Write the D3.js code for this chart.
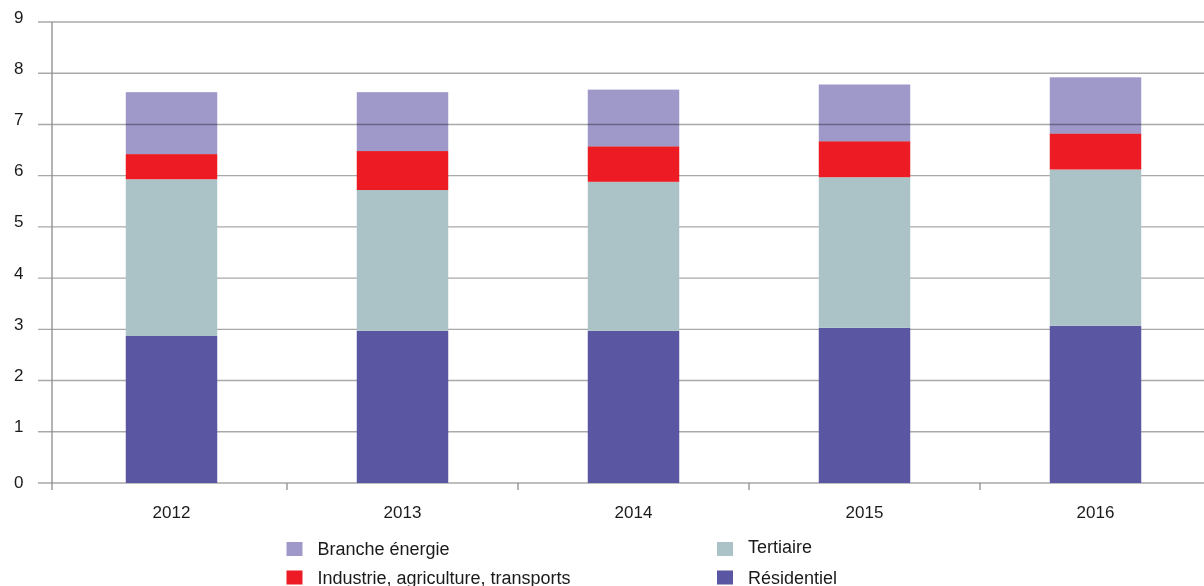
<!DOCTYPE html>
<html>
<head>
<meta charset="utf-8">
<script src="https://cdn.jsdelivr.net/npm/d3@7"></script>
<style>
  html, body { margin: 0; padding: 0; background: #fff; }
  svg { display: block; font-family: "Liberation Sans", Arial, Helvetica, sans-serif; }
</style>
</head>
<body>
<svg id="chart" width="1204" height="586"></svg>
<script>
// Years on the horizontal axis
const years = ["2012", "2013", "2014", "2015", "2016"];

// Series values, stacked bottom to top
const residentiel = [2.87, 2.97, 2.97, 3.03, 3.07];
const tertiaire   = [3.06, 2.75, 2.91, 2.94, 3.05];
const industrie   = [0.49, 0.76, 0.69, 0.70, 0.70];
const branche     = [1.21, 1.15, 1.11, 1.11, 1.10];

// Y tick values
const yTicks = [0, 1, 2, 3, 4, 5, 6, 7, 8, 9];

const seriesKeys = ["residentiel", "tertiaire", "industrie", "branche"];
const seriesNames = {
  branche: "Branche énergie",
  industrie: "Industrie, agriculture, transports",
  tertiaire: "Tertiaire",
  residentiel: "Résidentiel"
};
const colors = {
  residentiel: "#5a56a2",
  tertiaire: "#abc3c7",
  industrie: "#ed1c24",
  branche: "#9f99c9"
};

const rows = years.map((yr, i) => ({
  year: yr,
  residentiel: residentiel[i],
  tertiaire: tertiaire[i],
  industrie: industrie[i],
  branche: branche[i]
}));

const svg = d3.select("#chart");

const x = d3.scaleBand()
  .domain(years)
  .range([56, 1211])
  .paddingInner(0.604)
  .paddingOuter(0.302);

const y = d3.scaleLinear().domain([0, 9]).range([483, 22]);

const axisX = 52;

// Horizontal gridlines
svg.append("g")
  .selectAll("line")
  .data(yTicks)
  .join("line")
  .attr("x1", 38)
  .attr("x2", 1204)
  .attr("y1", d => y(d))
  .attr("y2", d => y(d))
  .attr("stroke", "#a9a9a9")
  .attr("stroke-width", 1.4);

// Y tick labels
svg.append("g")
  .selectAll("text")
  .data(yTicks)
  .join("text")
  .attr("x", 14)
  .attr("y", d => y(d) + (d === 0 ? 4.5 : 0.5))
  .attr("font-size", 17)
  .attr("fill", "#1a1a1a")
  .text(d => d);

// Vertical axis line
svg.append("line")
  .attr("x1", axisX).attr("x2", axisX)
  .attr("y1", y(9)).attr("y2", y(0) + 7)
  .attr("stroke", "#8c8c8c")
  .attr("stroke-width", 1.3);

// Category separator ticks on the x axis
const step = x.step();
const bandStart = x.range()[0];
svg.append("g")
  .selectAll("line")
  .data(years.slice(1))
  .join("line")
  .attr("x1", (d, i) => bandStart + (i + 1) * step)
  .attr("x2", (d, i) => bandStart + (i + 1) * step)
  .attr("y1", y(0))
  .attr("y2", y(0) + 7)
  .attr("stroke", "#8c8c8c")
  .attr("stroke-width", 1.3);

// Stacked bars
const stacked = d3.stack().keys(seriesKeys)(rows);

svg.append("g")
  .selectAll("g")
  .data(stacked)
  .join("g")
  .attr("fill", d => colors[d.key])
  .style("mix-blend-mode", d => d.key === "branche" ? "multiply" : null)
  .selectAll("rect")
  .data(d => d)
  .join("rect")
  .attr("x", d => x(d.data.year))
  .attr("width", x.bandwidth())
  .attr("y", d => y(d[1]))
  .attr("height", d => y(d[0]) - y(d[1]));

// Year labels
svg.append("g")
  .selectAll("text")
  .data(years)
  .join("text")
  .attr("x", d => x(d) + x.bandwidth() / 2)
  .attr("y", 518)
  .attr("text-anchor", "middle")
  .attr("font-size", 17)
  .attr("fill", "#1a1a1a")
  .text(d => d);

// Legend, two columns by two rows
const legendItems = [
  { key: "branche", col: 0, row: 0 },
  { key: "tertiaire", col: 1, row: 0 },
  { key: "industrie", col: 0, row: 1 },
  { key: "residentiel", col: 1, row: 1 }
];
const legendColX = [286.5, 717];
const legendRowY = [542, 570.5];

const lg = svg.append("g")
  .selectAll("g")
  .data(legendItems)
  .join("g")
  .attr("transform", d => `translate(${legendColX[d.col]},${legendRowY[d.row]})`);

lg.append("rect")
  .attr("width", 16)
  .attr("height", 14)
  .attr("fill", d => colors[d.key]);

lg.append("text")
  .attr("x", 31)
  .attr("y", d => d.key === "tertiaire" ? 11 : 13)
  .attr("font-size", 18)
  .attr("fill", "#1a1a1a")
  .text(d => seriesNames[d.key]);
</script>
</body>
</html>
